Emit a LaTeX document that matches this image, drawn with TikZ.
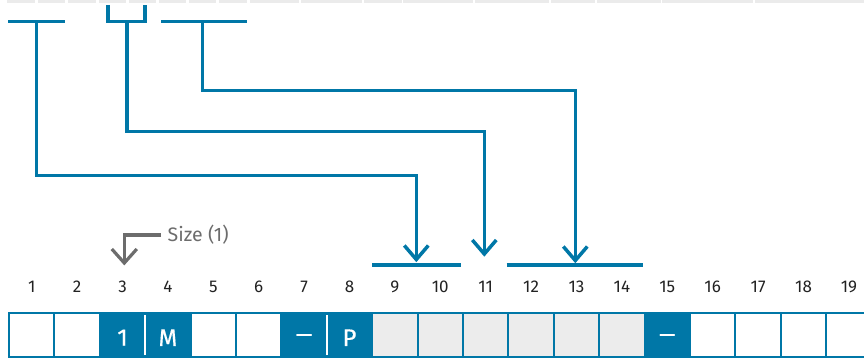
\documentclass[tikz,border=0pt]{standalone}
\usepackage{fontspec}
\usepackage{graphicx}
\setmainfont{Fira Sans}
\usetikzlibrary{calc}
\definecolor{ibmblue}{RGB}{0,119,167}
\definecolor{cellgray}{RGB}{236,236,236}
\definecolor{bargray}{RGB}{235,235,235}
\definecolor{txtgray}{RGB}{108,108,108}
\definecolor{numcol}{RGB}{34,34,34}
\tikzset{
  conn/.style={draw=ibmblue, line width=3.5pt, line join=miter, line cap=butt},
  gconn/.style={draw=txtgray, line width=3.2pt, line join=miter, line cap=butt},
  cellbox/.style={draw=ibmblue, line width=2pt, minimum width=45.4pt, minimum height=44.3pt, inner sep=0pt, outer sep=0pt},
  numlabel/.style={text=numcol, font=\fontsize{17}{19}\selectfont, inner sep=0pt},
  celllabel/.style={text=white, font=\fontsize{24}{27}\selectfont\addfontfeature{FakeBold=0.4}, inner sep=0pt},
  sizelabel/.style={text=txtgray, font=\fontsize{19.5}{22}\selectfont, inner sep=0pt, anchor=west},
}
\begin{document}
\begin{tikzpicture}[x=1pt,y=-1pt]
\useasboundingbox (0,0) rectangle (864,358);
% top gray bars
\foreach \a/\b in {7/35,38/65,68/96,99/126,129/156,159/186,189/216,219/247,250/299,301/362,364/402,403/473,475/549,551/595,597/661,662/753,755/864}
  \fill[bargray] (\a,0) rectangle (\b,3);
% cells
\foreach \k in {1,...,19}{
  \pgfmathsetmacro{\cx}{9+45.4*(\k-1)+22.7}
  \ifnum\k=3 \def\cf{ibmblue}\else
  \ifnum\k=4 \def\cf{ibmblue}\else
  \ifnum\k=7 \def\cf{ibmblue}\else
  \ifnum\k=8 \def\cf{ibmblue}\else
  \ifnum\k=15 \def\cf{ibmblue}\else
  \ifnum\k>8 \ifnum\k<15 \def\cf{cellgray}\else\def\cf{white}\fi\else\def\cf{white}\fi
  \fi\fi\fi\fi\fi
  \node[cellbox, fill=\cf] (c\k) at (\cx,334.9) {};
  \node[numlabel] (n\k) at (\cx,287) {\k};
}
% white separators inside blue pairs
\draw[white, line width=2pt] ($(c3.south east)+(0,-2)$) -- ($(c3.north east)+(0,2)$);
\draw[white, line width=2pt] ($(c7.south east)+(0,-2)$) -- ($(c7.north east)+(0,2)$);
% cell labels
\node[celllabel] (l3) at (c3 |- 0,337.7) {1};
\node[celllabel] (l4) at (c4 |- 0,337.7) {M};
\node[celllabel] (l7) at (c7 |- 0,338.3) {\scalebox{1.35}[1]{–}};
\node[celllabel] (l8) at (c8 |- 0,337.7) {P};
\node[celllabel] (l15) at (c15 |- 0,338.3) {\scalebox{1.35}[1]{–}};
% top connector heads
\coordinate (t1l) at (8,21.5);   \coordinate (t1r) at (65,21.5);  \coordinate (t1s) at (36.5,21.5);
\coordinate (yl) at (108,5);     \coordinate (yr) at (145,5);     \coordinate (ys) at (127,21.5);
\coordinate (t3l) at (161,21.5); \coordinate (t3r) at (247,21.5); \coordinate (t3s) at (202.5,21.5);
\coordinate (k1) at (0,175.5); \coordinate (k2) at (0,131.3); \coordinate (k3) at (0,90.3);
\coordinate (a1) at (416.3,259.5); \coordinate (a2) at (484.3,254); \coordinate (a3) at (575.3,260.5);
\coordinate (b1l) at (372,265); \coordinate (b1r) at (460.7,265);
\coordinate (b2l) at (506.7,265); \coordinate (b2r) at (643,265);
\draw[conn] (t1l) -- (t1r);
\draw[conn] (yl) |- (ys) -| (yr);
\draw[conn] (t3l) -- (t3r);
% routes
\draw[conn] (t1s) -- (t1s |- k1) -- (a1 |- k1) -- (a1);
\draw[conn] (ys) -- (ys |- k2) -- (a2 |- k2) -- (a2);
\draw[conn] (t3s) -- (t3s |- k3) -- (a3 |- k3) -- (a3);
% arrow heads
\foreach \t in {a1,a2,a3}
  \draw[conn] ($(\t)+(-12,-14)$) -- (\t) -- ($(\t)+(12,-14)$);
% target bars
\draw[conn] (b1l) -- (b1r);
\draw[conn] (b2l) -- (b2r);
% size annotation
\node[sizelabel] (sz) at (167.5,235) {Size (1)};
\coordinate (st) at (124.3,263);
\draw[gconn] ($(sz.west)+(-6.5,0)$) -| (st);
\draw[gconn] ($(st)+(-12.5,-14)$) -- (st) -- ($(st)+(12.5,-14)$);
\end{tikzpicture}
\end{document}
